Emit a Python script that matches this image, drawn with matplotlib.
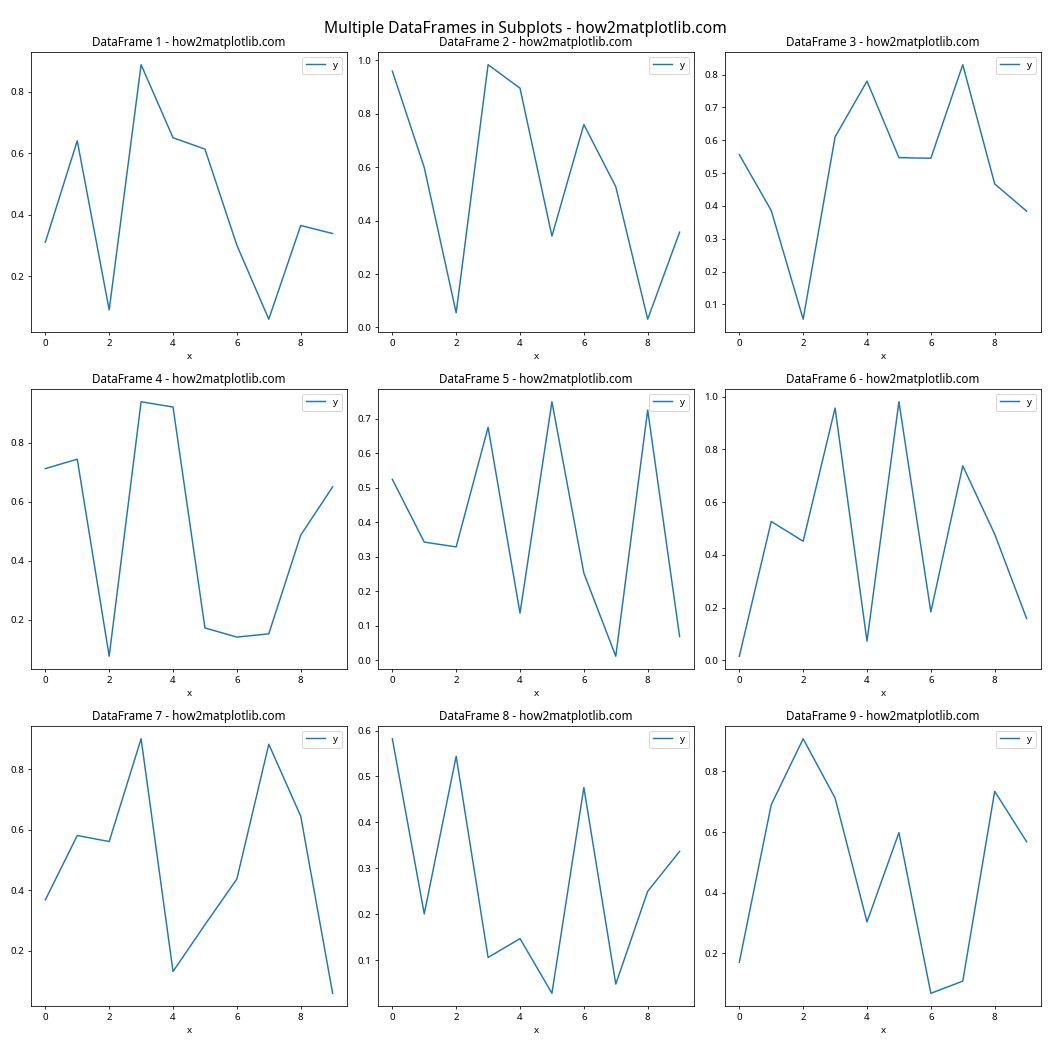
import pandas as pd
import matplotlib
matplotlib.use('Agg')
import matplotlib.pyplot as plt

plt.rcParams['font.family'] = ['Noto Sans', 'DejaVu Sans']

# x values shared by all frames
x = list(range(10))

# y values
y1 = [0.311, 0.640, 0.091, 0.887, 0.650, 0.613, 0.301, 0.061, 0.365, 0.339]
y2 = [0.960, 0.599, 0.055, 0.984, 0.896, 0.342, 0.760, 0.527, 0.031, 0.357]
y3 = [0.556, 0.386, 0.055, 0.610, 0.780, 0.547, 0.545, 0.830, 0.467, 0.384]
y4 = [0.713, 0.745, 0.076, 0.940, 0.922, 0.172, 0.141, 0.152, 0.487, 0.651]
y5 = [0.525, 0.343, 0.329, 0.676, 0.137, 0.750, 0.253, 0.012, 0.726, 0.069]
y6 = [0.016, 0.527, 0.452, 0.957, 0.073, 0.981, 0.184, 0.738, 0.479, 0.159]
y7 = [0.368, 0.581, 0.561, 0.901, 0.131, 0.286, 0.437, 0.883, 0.645, 0.059]
y8 = [0.582, 0.201, 0.544, 0.106, 0.147, 0.028, 0.476, 0.048, 0.250, 0.337]
y9 = [0.171, 0.690, 0.907, 0.712, 0.304, 0.598, 0.069, 0.109, 0.734, 0.568]

all_y = [y1, y2, y3, y4, y5, y6, y7, y8, y9]

fig, axes = plt.subplots(3, 3, figsize=(15, 15), dpi=70)

for i, (ax, y) in enumerate(zip(axes.flat, all_y)):
    df = pd.DataFrame({'x': x, 'y': y})
    df.plot(x='x', y='y', ax=ax, title=f'DataFrame {i+1} - how2matplotlib.com')
    ax.legend(loc='upper right')

fig.suptitle('Multiple DataFrames in Subplots - how2matplotlib.com', fontsize=16)
plt.subplots_adjust(left=0.0295, right=0.9914, top=0.9505, bottom=0.0419,
                    wspace=0.098, hspace=0.204)
plt.savefig('out.png', dpi=70)
